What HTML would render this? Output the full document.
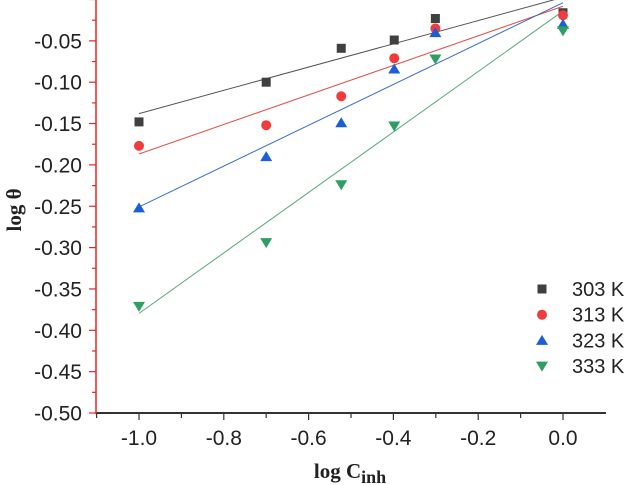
<!DOCTYPE html>
<html><head><meta charset="utf-8"><style>
body{margin:0;background:#fff;}
svg{display:block;font-family:"Liberation Sans",sans-serif;}
</style></head><body>
<svg id="chart" width="628" height="485"></svg>
<script>
const categories=[-1,-0.7,-0.523,-0.398,-0.301,0];
const s303=[-0.148,-0.100,-0.059,-0.049,-0.023,-0.016];
const s313=[-0.177,-0.152,-0.117,-0.071,-0.035,-0.019];
const s323=[-0.252,-0.190,-0.149,-0.084,-0.040,-0.030];
const s333=[-0.371,-0.294,-0.224,-0.153,-0.072,-0.038];
const seriesNames=["303 K","313 K","323 K","333 K"];
const xTicks=["-1.0","-0.8","-0.6","-0.4","-0.2","0.0"];
const yTicks=["-0.05","-0.10","-0.15","-0.20","-0.25","-0.30","-0.35","-0.40","-0.45","-0.50"];
const NS="http://www.w3.org/2000/svg";
const svg=document.getElementById('chart');
const X=v=>139+(v+1)*424;
const Y=v=>413-(v+0.5)*827;
function mk(tag,attrs,parent){const e=document.createElementNS(NS,tag);for(const k in attrs)e.setAttribute(k,attrs[k]);(parent||svg).appendChild(e);return e;}
const defs=mk('defs',{});
const cp=mk('clipPath',{id:'clip'},defs);
mk('rect',{x:96,y:0,width:510,height:413},cp);
const colors=["#404040","#f03c3c","#1a5fd6","#2e9e63"];
const lineColors=["#555","#e05050","#3a6cc8","#55a87a"];
const all=[s303,s313,s323,s333];
all.forEach((s,i)=>{
  const n=s.length;let mx=0,my=0;for(let j=0;j<n;j++){mx+=categories[j];my+=s[j];}mx/=n;my/=n;
  let sxy=0,sxx=0;for(let j=0;j<n;j++){sxy+=(categories[j]-mx)*(s[j]-my);sxx+=(categories[j]-mx)**2;}
  const b=sxy/sxx,a=my-b*mx;
  const l=mk('line',{x1:X(-1),y1:Y(a-b),x2:X(0),y2:Y(a),stroke:lineColors[i],'stroke-width':1,'clip-path':'url(#clip)'});
  
  
});
function marker(i,cx,cy,parent){
  let e;
  if(i===0)e=mk('rect',{x:cx-4.5,y:cy-4.5,width:9,height:9,fill:colors[0]},parent);
  else if(i===1)e=mk('circle',{cx:cx,cy:cy,r:5,fill:colors[1]},parent);
  else if(i===2)e=mk('path',{d:`M${cx-6},${cy+4.5}L${cx+6},${cy+4.5}L${cx},${cy-5.5}Z`,fill:colors[2]},parent);
  else e=mk('path',{d:`M${cx-6},${cy-4.5}L${cx+6},${cy-4.5}L${cx},${cy+5.5}Z`,fill:colors[3]},parent);
  return e;
}
all.forEach((s,i)=>{
  s.forEach((v,j)=>{
    const m=marker(i,X(categories[j]),Y(v));
    
    
  });
});
const xa=mk('line',{x1:96,y1:413,x2:606,y2:413,stroke:'#333','stroke-width':2});

const ya=mk('line',{x1:96,y1:0,x2:96,y2:414,stroke:'#e8252a','stroke-width':1.5});

for(let k=0;k<12;k++){const v=-1.1+k*0.1;const x=X(v);const major=(k%2===1);
  mk('line',{x1:x,y1:413,x2:x,y2:major?420:418,stroke:'#333','stroke-width':1.2});}
xTicks.forEach(t=>{const e=mk('text',{x:X(parseFloat(t)),y:445,'text-anchor':'middle','font-size':21,fill:'#222'});e.textContent=t;
  });
for(let k=0;k<=10;k++){const v=-0.5+k*0.05;const y=Y(v);
  mk('line',{x1:89,y1:y,x2:96,y2:y,stroke:'#e8252a','stroke-width':1.2});
  if(k<10){const y2=Y(v+0.025);mk('line',{x1:92,y1:y2,x2:96,y2:y2,stroke:'#e8252a','stroke-width':1.2});}}
yTicks.forEach(t=>{const e=mk('text',{x:82,y:Y(parseFloat(t))+7.5,'text-anchor':'end','font-size':21,fill:'#222'});e.textContent=t;
  });
const xt=mk('text',{x:350,y:478,'text-anchor':'middle','font-size':21,'font-weight':'bold','font-family':'Liberation Serif, serif',fill:'#222'});
xt.innerHTML='log C<tspan dy="5" font-size="18">inh</tspan>';

const yt=mk('text',{x:0,y:0,'text-anchor':'middle','font-size':21,'font-weight':'bold','font-family':'Liberation Serif, serif',fill:'#222',transform:'translate(21,210) rotate(-90)'});
yt.textContent='log θ';

const lg=mk('g',{});

seriesNames.forEach((nm,i)=>{const y=289+i*25.7;
  const g=mk('g',{},lg);
  
  marker(i,542,y,g);
  const t=mk('text',{x:572,y:y+7,'font-size':20,fill:'#222'},g);t.textContent=nm;});
</script>
</body></html>
